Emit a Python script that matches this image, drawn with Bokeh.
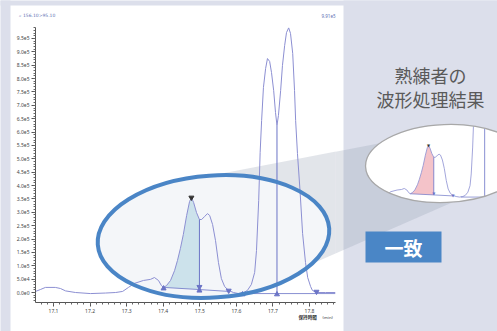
import numpy as np
from bokeh.plotting import figure
from bokeh.models import Range1d, SingleIntervalTicker, CustomJSTickFormatter
from bokeh.core.properties import value
from bokeh.embed import file_html
from bokeh.resources import INLINE

# ---------------- data ----------------
rt = [17.051, 17.064, 17.078, 17.105, 17.119, 17.133, 17.160, 17.201, 17.242, 17.270,
      17.289, 17.305, 17.321, 17.346, 17.365, 17.376, 17.387, 17.395, 17.401, 17.409,
      17.420, 17.431, 17.439, 17.447, 17.455, 17.464, 17.472, 17.477, 17.483, 17.491,
      17.499, 17.505, 17.513, 17.521, 17.527, 17.535, 17.543, 17.551, 17.559, 17.568,
      17.579, 17.592, 17.606, 17.620, 17.630, 17.641, 17.650, 17.655, 17.661, 17.665,
      17.669, 17.674, 17.680, 17.685, 17.691, 17.696, 17.702, 17.707, 17.711, 17.715,
      17.721, 17.726, 17.732, 17.737, 17.743, 17.748, 17.754, 17.759, 17.762, 17.767,
      17.774, 17.781, 17.789, 17.795, 17.803, 17.808, 17.819, 17.844, 17.871]
intensity = [4000, 11000, 19000, 19000, 15000, 6000, 0, -4000, -2000, 0,
             4000, 19000, 34000, 45000, 49000, 56000, 45000, 26000, 19000, 26000,
             45000, 82000, 120000, 165000, 217000, 288000, 340000, 355000, 337000, 299000,
             273000, 273000, 284000, 295000, 288000, 254000, 194000, 112000, 52000, 22000,
             7500, 0, -4000, 0, 7500, 30000, 75000, 157000, 344000, 524000,
             643000, 767000, 838000, 875000, 864000, 823000, 755000, 673000, 625000, 662000,
             755000, 849000, 924000, 972000, 990000, 969000, 894000, 755000, 643000, 520000,
             381000, 221000, 112000, 56000, 22000, 7500, 0, 0, 0]
peak_start_rt, peak_end_rt = 17.401, 17.499
peak_base_int = [19000, 11000]          # baseline under the integrated peak (start, end)
apex_rt, apex_int = 17.477, 355000
base1_rt = [17.401, 17.499, 17.579]
base1_int = [19000, 11000, 4000]
base2_rt = [17.612, 17.871]
base2_int = [-4000, -4000]
drop_rt = [17.499, 17.711]
drop_top = [273000, 625000]
drop_bot = [11000, -4000]
down_rt = [17.499, 17.579, 17.819]
down_int = [21000, 7000, 3000]
up_rt = [17.401, 17.499, 17.617, 17.711]
up_int = [15000, 7000, -7000, -7000]
mini_min_rt = 17.29
mini_mark_rt = [17.499, 17.579]
mini_mark_int = [21000, 7000]

mz_label = "⌕ 156.10>95.10"
max_label = "9.91e5"
x_title = "保持時間"
x_unit = "(min)"
title_lines = ["熟練者の", "波形処理結果"]
badge = "一致"

# ---------------- layout ----------------
W, H = 497, 331
FL, FR, FT, FB = 35, 335, 27, 302
BG = "#dcdfeb"
CURVE = "#8c8fd2"
MARK = "#6b74c6"
BLUE = "#4a85c6"
JP = "Noto Sans CJK JP"
WEDGE = "#97a0b3"


def Y(c):
    return H - c


p = figure(width=W, height=H, output_backend="svg", toolbar_location=None,
           x_range=Range1d(17.0508, 17.871), y_range=Range1d(-37400, 991100),
           min_border_left=FL, min_border_right=W - FR, min_border_top=FT,
           min_border_bottom=H - FB, background_fill_color="white",
           border_fill_color="white", outline_line_color=None)
p.grid.visible = False

# inset mapping (apex -> (428,145), 0 -> y 196, 240 px per minute)
ix0, ixs = 428, 240.0
iy0, iys = 196, 355000 / 51.0
p.extra_x_ranges = {"px": Range1d(FL, FR),
                    "ix": Range1d(apex_rt + (FL - ix0) / ixs, apex_rt + (FR - ix0) / ixs)}
p.extra_y_ranges = {"py": Range1d(H - FB, H - FT),
                    "iy": Range1d((iy0 - FB) * iys, (iy0 - FT) * iys)}
PX = dict(x_range_name="px", y_range_name="py")
IX = dict(x_range_name="ix", y_range_name="iy")
OV = dict(level="overlay")

# axes
xa = p.xaxis[0]
xa.ticker = SingleIntervalTicker(interval=0.1, num_minor_ticks=6)
ya = p.yaxis[0]
ya.ticker = SingleIntervalTicker(interval=50000, num_minor_ticks=5)
ya.formatter = CustomJSTickFormatter(code="return tick.toExponential(1).replace('+','');")
for ax in (xa, ya):
    ax.axis_line_color = "#555555"
    ax.major_tick_line_color = "#555555"
    ax.minor_tick_line_color = "#666666"
    ax.major_tick_in = 0
    ax.minor_tick_in = 0
    ax.major_tick_out = 4
    ax.minor_tick_out = 2
    ax.major_label_text_font = "Noto Sans"
    ax.major_label_text_font_size = "5px"
    ax.major_label_text_color = "#444444"
    ax.major_label_standoff = 2


def ell_pts(cx, cy, a, b, ang, t):
    ex, ey = a * np.cos(t), b * np.sin(t)
    return (cx + ex * np.cos(ang) - ey * np.sin(ang),
            cy + ex * np.sin(ang) + ey * np.cos(ang))


icx, icy, ia, ib, iang = 445, Y(163), 80, 39, 0.04
bcx, bcy, bw, bh, bang = 213, Y(236), 232, 122, 0.07

# projection wedge geometry
P1 = (185, Y(180))
P2 = (310, Y(264))
ta = np.radians(np.linspace(144, 274, 60))
ax_, ay_ = ell_pts(icx, icy, ia, ib, iang, ta)
wx = [P1[0]] + list(ax_) + [P2[0]]
wy = [P1[1]] + list(ay_) + [P2[1]]


def cut(pa, pb, xc):
    f = (xc - pa[0]) / (pb[0] - pa[0])
    return pa[1] + f * (pb[1] - pa[1])


yu = cut(P1, (ax_[0], ay_[0]), FR)
yl = cut(P2, (ax_[-1], ay_[-1]), FR)
wx2 = [FR] + list(ax_) + [FR]
wy2 = [yu] + list(ay_) + [yl]

# mask around the inset ellipse: two simple polygons (above / below the ellipse)
tu = np.linspace(np.pi, 0, 120)
tl = np.linspace(np.pi, 2 * np.pi, 120)
ux, uy = ell_pts(icx, icy, ia, ib, iang, tu)
lx, ly = ell_pts(icx, icy, ia, ib, iang, tl)
MX0, MX1, MT, MB = 350, 540, Y(30), Y(222)
mask_u = ([MX0] + list(ux) + [MX1, MX1, MX0], [uy[0]] + list(uy) + [uy[-1], MT, MT])
mask_l = ([MX0] + list(lx) + [MX1, MX1, MX0], [ly[0]] + list(ly) + [ly[-1], MB, MB])

# ---------------- inside the frame (glyph level) ----------------
p.patch(wx, wy, fill_color=WEDGE, fill_alpha=0.28, line_color=None, **PX)
p.ellipse(x=bcx, y=bcy, width=bw, height=bh, angle=bang, fill_color="#f4f6f9",
          line_color=None, **PX)

rt_a = np.array(rt)
in_a = np.array(intensity)
pk = (rt_a >= peak_start_rt) & (rt_a <= peak_end_rt)
pk_x = list(rt_a[pk]) + [peak_end_rt, peak_start_rt]
pk_y = list(in_a[pk]) + [peak_base_int[1], peak_base_int[0]]

p.patch(pk_x, pk_y, fill_color="#cce2eb", line_color=None)
p.line(rt, intensity, line_color=CURVE, line_width=1)
p.segment(x0=drop_rt, y0=drop_bot, x1=drop_rt, y1=drop_top, line_color=MARK, line_width=1)
p.line(base1_rt, base1_int, line_color=MARK, line_width=0.8)
p.line(base2_rt, base2_int, line_color=MARK, line_width=0.8)
p.scatter(down_rt, down_int, marker="inverted_triangle", size=5, color=MARK)
p.scatter(up_rt, up_int, marker="triangle", size=5, color=MARK)
p.scatter([apex_rt], [apex_int], marker="inverted_triangle", size=5, color="#333333")

# ---------------- outside the frame (overlay level) ----------------
# lavender surroundings of the white card
p.quad(left=[0, 0, 343], right=[10, W, W], top=[H, H, H], bottom=[0, Y(5), 0],
       fill_color=BG, line_color=None, **OV, **PX)

# inset (expert result)
p.ellipse(x=icx, y=icy, width=2 * ia, height=2 * ib, angle=iang,
          fill_color="white", line_color=None, **OV, **PX)
sel = rt_a >= mini_min_rt
p.patch(pk_x, pk_y, fill_color="#f4c3c9", line_color=None, **OV, **IX)
p.line(rt_a[sel], in_a[sel], line_color=CURVE, line_width=0.8, **OV, **IX)
p.line([drop_rt[0], drop_rt[0]], [drop_bot[0], drop_top[0]], line_color=MARK,
       line_width=0.8, **OV, **IX)
p.line([drop_rt[1], drop_rt[1]], [drop_bot[1], drop_top[1]], line_color=MARK,
       line_width=0.8, **OV, **IX)
p.line(base1_rt, base1_int, line_color=MARK, line_width=0.7, **OV, **IX)
p.line(base2_rt, base2_int, line_color=MARK, line_width=0.7, **OV, **IX)
p.text(x=mini_mark_rt, y=mini_mark_int, text=["▼"] * len(mini_mark_rt),
       text_font=value("DejaVu Sans"), text_font_size="4px", text_color=MARK,
       text_align="center", text_baseline="middle", **OV, **IX)
p.text(x=[apex_rt], y=[apex_int], text=["▼"], text_font=value("DejaVu Sans"),
       text_font_size="4px", text_color="#333333", text_align="center",
       text_baseline="middle", **OV, **IX)

p.patch(mask_u[0], mask_u[1], fill_color=BG, line_color=BG, line_width=0.5, **OV, **PX)
p.patch(mask_l[0], mask_l[1], fill_color=BG, line_color=BG, line_width=0.5, **OV, **PX)

p.patch(wx2, wy2, fill_color=WEDGE, fill_alpha=0.28, line_color=None, **OV, **PX)

p.ellipse(x=bcx, y=bcy, width=bw, height=bh, angle=bang, fill_color=None,
          line_color=BLUE, line_width=4, **OV, **PX)
p.ellipse(x=icx, y=icy, width=2 * ia, height=2 * ib, angle=iang, fill_color=None,
          line_color="#a8a8a8", line_width=1.3, **OV, **PX)
p.quad(left=365, right=441, top=Y(231), bottom=Y(262), fill_color="#4a86c6",
       line_color=None, **OV, **PX)


def lab(x, y, text, size, color, font=JP, align="center", style="normal"):
    p.text(x=[x], y=[Y(y)], text=[text], text_font=value(font), text_font_size=size,
           text_color=color, text_align=align, text_baseline="middle",
           text_font_style=style, **OV, **PX)


lab(430, 74, title_lines[0], "18px", "#5a5a5a")
lab(430, 98, title_lines[1], "18px", "#5a5a5a")
lab(403, 247, badge, "19px", "white", style="bold")
lab(18, 15, mz_label, "4.5px", "#6070b4", font="DejaVu Sans", align="left")
lab(335, 15, max_label, "4.5px", "#6070b4", font="Noto Sans", align="right")
lab(298, 316, x_title, "4.6px", "#333333", align="left", style="bold")
lab(322, 316, x_unit, "4.3px", "#444444", font="Noto Sans", align="left")

open("out.html", "w").write(file_html(p, INLINE))
